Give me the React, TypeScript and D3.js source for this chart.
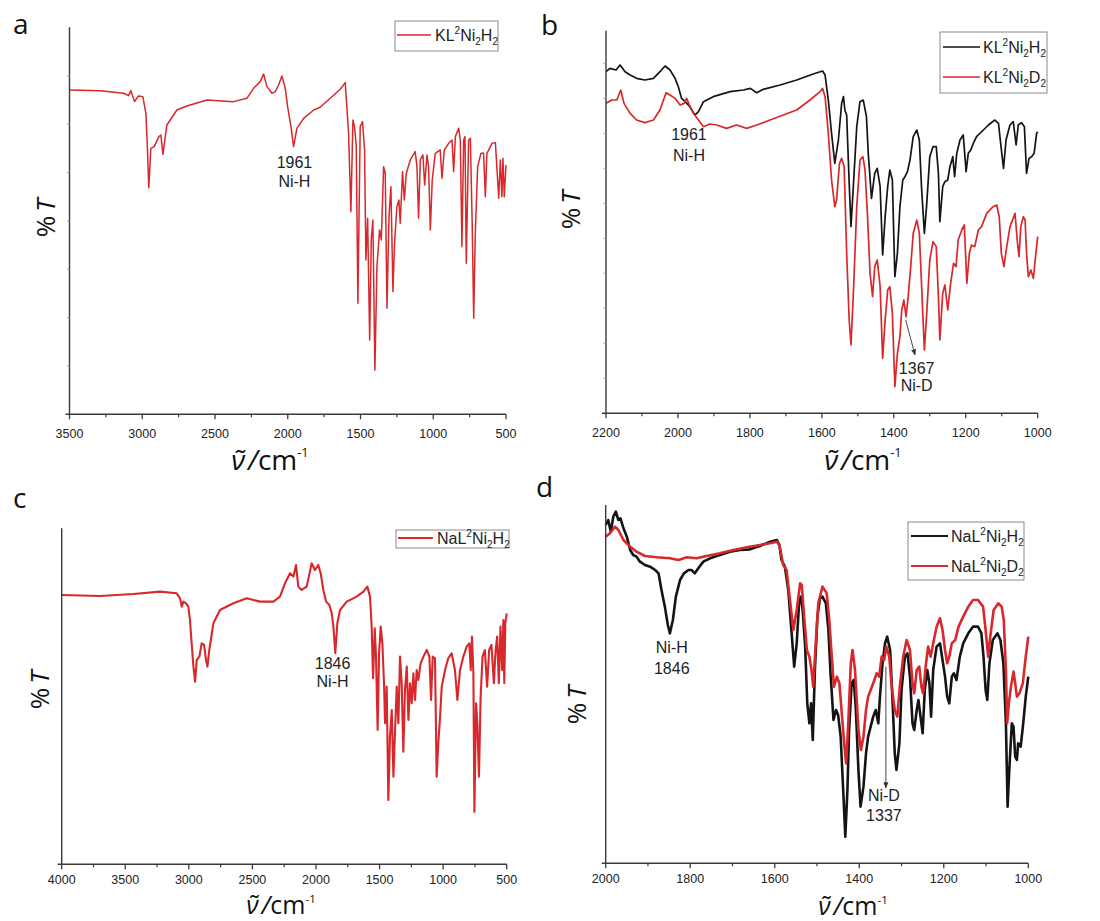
import React from 'react';
import * as d3 from 'd3';

type Pt = [number, number];

// ---- spectra: [wavenumber (cm-1), transmittance (arb. %T)] ----
// KL2Ni2H2, full range
const kH2Full: Pt[] = [
  [3500, 97.3], [3289, 97.1], [3129, 96.3], [3094, 95.6], [3078, 97.1], [3053, 93.8], [3026, 95.5], [2996, 95.3],
  [2975, 90.3], [2964, 79.3], [2955, 68.0], [2941, 79.8], [2918, 80.3], [2886, 83.3], [2872, 83.8], [2858, 78.0],
  [2831, 86.8], [2762, 91.3], [2693, 92.5], [2556, 94.3], [2372, 93.8], [2281, 94.8], [2235, 97.8], [2189, 99.8],
  [2166, 102.1], [2143, 98.3], [2109, 96.3], [2086, 96.8], [2063, 98.8], [2040, 101.5], [2017, 97.8], [2001, 92.3],
  [1978, 86.3], [1960, 80.3], [1937, 85.8], [1891, 88.8], [1822, 91.3], [1777, 92.1], [1708, 94.8], [1639, 97.5],
  [1605, 99.5], [1582, 84.3], [1566, 60.8], [1552, 88.3], [1541, 86.3], [1529, 80.3], [1518, 33.3], [1502, 86.3],
  [1486, 87.8], [1472, 79.3], [1463, 46.3], [1451, 58.8], [1437, 22.3], [1426, 52.3], [1415, 58.3], [1401, 13.3],
  [1387, 44.3], [1369, 55.3], [1357, 52.3], [1341, 74.3], [1330, 72.3], [1318, 31.8], [1304, 59.3], [1291, 68.3],
  [1277, 36.8], [1266, 51.3], [1250, 62.3], [1236, 64.3], [1227, 57.3], [1211, 72.8], [1199, 64.3], [1185, 72.3],
  [1158, 76.3], [1124, 78.8], [1112, 74.3], [1101, 58.8], [1089, 76.3], [1071, 77.8], [1059, 68.8], [1043, 77.8],
  [1032, 74.3], [1020, 55.3], [1007, 70.3], [986, 78.3], [952, 79.3], [940, 70.8], [924, 79.3], [894, 81.3],
  [871, 82.3], [860, 72.8], [848, 83.3], [825, 85.8], [814, 82.3], [803, 50.3], [791, 82.3], [782, 83.3],
  [773, 45.3], [757, 82.3], [745, 82.8], [732, 56.3], [722, 28.8], [711, 54.3], [695, 74.3], [672, 78.3],
  [654, 78.3], [642, 65.3], [631, 78.3], [596, 81.3], [573, 81.5], [550, 64.8], [539, 76.3], [528, 65.3],
  [521, 76.8], [512, 65.3], [500, 74.8],
];

// KL2Ni2H2, 2200–1000 cm-1
const kH2Zoom: Pt[] = [
  [2200, 102.5], [2189, 103.5], [2172, 103], [2161, 104.5], [2147, 102.5], [2133, 101.5], [2115, 100.5], [2092, 100],
  [2068, 100.5], [2050, 102.5], [2036, 104.2], [2022, 103], [2008, 100.5], [1999, 98], [1990, 94.5], [1980, 93.5],
  [1967, 92], [1953, 89.5], [1943, 90.5], [1929, 93.5], [1902, 95], [1855, 96.5], [1818, 97], [1799, 97.5],
  [1781, 96.2], [1763, 97.2], [1716, 98.5], [1670, 100], [1624, 101.8], [1598, 102.7], [1591, 101.5], [1582, 94],
  [1573, 84], [1564, 75], [1554, 82], [1545, 93], [1540, 95], [1536, 91], [1531, 89.5], [1524, 69], [1519, 56],
  [1512, 69], [1503, 86], [1494, 93.5], [1485, 94], [1476, 89], [1471, 78], [1462, 64.5], [1453, 72], [1446, 73.5],
  [1438, 68], [1431, 47.5], [1424, 59], [1417, 68], [1411, 73], [1404, 70], [1397, 41], [1390, 48], [1383, 62],
  [1375, 70], [1369, 71], [1362, 72.5], [1355, 76], [1346, 83], [1336, 85], [1329, 82], [1323, 68], [1315, 54],
  [1309, 62], [1300, 77], [1291, 80], [1282, 80], [1276, 72], [1272, 57.5], [1264, 68], [1258, 69.5], [1250, 70],
  [1244, 74], [1236, 77], [1231, 71], [1225, 78], [1216, 82], [1207, 83.5], [1199, 72.5], [1193, 78], [1186, 79],
  [1179, 81], [1170, 83], [1151, 85], [1137, 86.5], [1119, 88], [1109, 87], [1103, 81], [1095, 73.5], [1088, 82],
  [1077, 86.5], [1068, 87.5], [1060, 80.5], [1054, 86.5], [1045, 87.2], [1037, 86], [1031, 72], [1024, 76.5],
  [1017, 77], [1010, 78], [1003, 84], [1000, 84.5],
];

// KL2Ni2D2, 2200–1000 cm-1
const kD2Zoom: Pt[] = [
  [2200, 93], [2184, 94], [2170, 94], [2159, 97], [2150, 93], [2133, 90], [2115, 88], [2092, 87.2], [2068, 88],
  [2050, 91], [2033, 96.2], [2022, 95.5], [2008, 94.5], [1994, 92.5], [1983, 93], [1976, 94.5], [1968, 92.5],
  [1957, 90], [1943, 88], [1929, 86], [1911, 86.8], [1892, 86.5], [1865, 85.5], [1837, 86.5], [1809, 85.5],
  [1781, 86.5], [1744, 88], [1707, 89.5], [1670, 91], [1633, 94], [1605, 96.5], [1598, 97.5], [1591, 95],
  [1582, 84], [1573, 70], [1564, 62], [1559, 64], [1551, 75], [1545, 76.5], [1538, 74], [1531, 48], [1524, 28],
  [1519, 20.5], [1512, 37], [1503, 62], [1494, 76], [1486, 77], [1480, 73], [1473, 59], [1466, 42], [1459, 35],
  [1453, 44], [1446, 46], [1438, 38], [1431, 16.5], [1424, 28], [1417, 37], [1411, 38], [1404, 30], [1397, 8],
  [1390, 18], [1383, 23], [1378, 31], [1372, 34], [1366, 29], [1360, 35], [1353, 44], [1346, 54], [1336, 58],
  [1329, 54], [1323, 39], [1315, 19], [1309, 29], [1300, 46], [1291, 51.5], [1282, 50], [1276, 35], [1272, 22],
  [1264, 36], [1258, 38.5], [1250, 31], [1242, 39], [1234, 45], [1227, 44], [1221, 52], [1211, 55], [1204, 56.5],
  [1197, 39], [1190, 48], [1184, 50.5], [1175, 50], [1165, 55], [1156, 56], [1142, 60], [1124, 62], [1114, 62.5],
  [1107, 59], [1101, 48], [1094, 44], [1086, 50], [1077, 56], [1063, 60], [1057, 52], [1052, 47], [1047, 56],
  [1040, 59], [1035, 58], [1031, 48], [1026, 41], [1019, 43], [1012, 40.5], [1006, 47], [1000, 53],
];

// NaL2Ni2H2, full range
const naH2Full: Pt[] = [
  [4000, 80.8], [3699, 80.5], [3436, 81.1], [3227, 81.8], [3096, 81.3], [3069, 79.8], [3056, 77.3], [3043, 78.8],
  [3022, 78.3], [3004, 77.3], [2991, 73.3], [2978, 66.3], [2964, 59.3], [2951, 54.8], [2938, 61.3], [2917, 62.3],
  [2899, 66.3], [2880, 65.8], [2865, 61.3], [2854, 59.3], [2839, 64.3], [2807, 72.3], [2755, 76.3], [2650, 78.3],
  [2545, 79.8], [2440, 78.8], [2335, 78.8], [2283, 80.3], [2244, 84.3], [2204, 87.3], [2178, 86.3], [2157, 89.8],
  [2139, 83.3], [2113, 82.3], [2073, 83.3], [2034, 90.3], [2008, 88.3], [1982, 89.8], [1963, 87.3], [1942, 82.3],
  [1921, 78.8], [1895, 77.8], [1876, 75.3], [1863, 71.3], [1848, 63.3], [1832, 72.3], [1811, 76.3], [1758, 78.8],
  [1680, 80.3], [1627, 81.8], [1596, 83.3], [1575, 80.3], [1562, 71.3], [1551, 55.8], [1538, 70.8], [1528, 62.3],
  [1515, 40.3], [1504, 63.3], [1491, 71.3], [1478, 66.3], [1465, 54.3], [1457, 42.3], [1444, 53.3], [1431, 19.3],
  [1418, 38.3], [1404, 46.3], [1391, 26.3], [1378, 40.3], [1365, 53.3], [1352, 42.3], [1339, 62.3], [1326, 54.3],
  [1313, 33.8], [1300, 52.3], [1286, 59.3], [1273, 43.3], [1260, 54.3], [1247, 48.3], [1234, 57.3], [1221, 49.3],
  [1208, 58.3], [1195, 55.3], [1177, 60.3], [1155, 62.3], [1129, 64.3], [1108, 62.3], [1095, 49.3], [1082, 62.3],
  [1064, 61.8], [1051, 26.3], [1038, 36.3], [1024, 44.3], [1011, 53.3], [985, 58.3], [960, 61.8], [933, 63.3],
  [907, 58.3], [888, 49.3], [867, 58.3], [841, 62.3], [815, 65.3], [794, 66.3], [783, 58.3], [773, 68.3],
  [762, 57.3], [754, 15.8], [741, 48.3], [731, 42.3], [718, 26.3], [705, 50.3], [690, 62.3], [672, 64.3],
  [654, 53.3], [638, 64.3], [620, 65.8], [601, 54.3], [588, 63.8], [575, 68.3], [562, 54.3], [549, 71.3],
  [536, 58.3], [526, 73.3], [519, 54.3], [511, 72.3], [500, 75.3],
];

// NaL2Ni2H2, 2000–1000 cm-1
const naH2Zoom: Pt[] = [
  [2000, 101.5], [1994, 103], [1988, 99.5], [1982, 104], [1976, 105.5], [1970, 103], [1965, 103.5], [1958, 100.5],
  [1950, 98], [1942, 94], [1935, 92.5], [1927, 92], [1919, 90.5], [1907, 89.5], [1895, 89], [1883, 88], [1875, 87],
  [1868, 82], [1860, 77], [1853, 71.5], [1848, 69], [1841, 73], [1834, 80], [1824, 85], [1815, 87], [1804, 88],
  [1797, 88], [1789, 87], [1781, 88.5], [1769, 90.5], [1753, 91.5], [1730, 92.5], [1706, 93.5], [1682, 94],
  [1659, 94.2], [1635, 95.2], [1611, 96.5], [1595, 97], [1589, 95.5], [1584, 91], [1576, 89], [1568, 82],
  [1560, 69], [1554, 59], [1548, 66], [1542, 79], [1538, 80], [1534, 76], [1528, 65], [1523, 48], [1518, 42],
  [1514, 48], [1510, 37], [1505, 58], [1499, 74], [1493, 79.5], [1487, 80], [1479, 78], [1473, 70], [1468, 57],
  [1461, 43], [1455, 46], [1450, 44.5], [1444, 38], [1438, 22], [1433, 8], [1428, 22], [1424, 40], [1418, 54],
  [1413, 55], [1408, 46], [1402, 28], [1397, 17], [1390, 23], [1384, 33], [1379, 38], [1373, 41], [1367, 44],
  [1361, 46], [1355, 42], [1351, 50], [1345, 60], [1339, 66], [1334, 68], [1327, 64], [1321, 48], [1316, 33],
  [1312, 28], [1305, 36], [1300, 52], [1292, 62], [1286, 63], [1280, 56], [1274, 42], [1270, 40], [1264, 46],
  [1260, 49], [1255, 44], [1250, 39], [1245, 52], [1239, 58], [1234, 54], [1230, 44], [1225, 58], [1217, 65],
  [1209, 66], [1203, 61], [1197, 56], [1192, 50], [1187, 48], [1181, 56], [1176, 57], [1170, 55], [1162, 62],
  [1154, 66], [1142, 69], [1131, 71], [1119, 71], [1111, 69], [1106, 62], [1101, 52], [1097, 49], [1092, 60],
  [1084, 67], [1073, 69], [1066, 67], [1059, 60], [1053, 42], [1049, 17], [1045, 28], [1039, 42], [1035, 41],
  [1031, 32], [1027, 31], [1024, 36], [1018, 35], [1012, 42], [1006, 50], [1000, 56],
];

// NaL2Ni2D2, 2000–1000 cm-1
const naD2Zoom: Pt[] = [
  [2000, 98], [1990, 99], [1978, 101], [1970, 100], [1958, 97], [1942, 95], [1927, 93.5], [1907, 92.2],
  [1879, 91.8], [1848, 91.5], [1828, 91], [1808, 91.8], [1785, 91.5], [1761, 92.2], [1730, 93], [1698, 94],
  [1666, 94.8], [1635, 95.5], [1611, 96], [1595, 96.5], [1588, 95], [1580, 89.5], [1572, 88], [1564, 79],
  [1556, 70], [1548, 76], [1540, 84], [1536, 83.5], [1531, 75], [1524, 64], [1518, 62], [1513, 58], [1509, 53],
  [1503, 66], [1497, 78], [1487, 83], [1477, 81], [1471, 73], [1465, 62], [1460, 53], [1453, 56], [1447, 54],
  [1442, 46], [1435, 35], [1431, 30], [1426, 42], [1420, 60], [1416, 64], [1410, 58], [1402, 40], [1396, 34],
  [1390, 38], [1384, 46], [1379, 50], [1373, 52], [1367, 54], [1359, 57], [1353, 56], [1347, 62], [1341, 61],
  [1336, 65], [1329, 62], [1324, 54], [1316, 46], [1310, 44], [1304, 53], [1296, 62], [1288, 67], [1280, 64],
  [1274, 54], [1270, 51], [1264, 58], [1258, 59], [1253, 53], [1249, 51], [1242, 60], [1237, 65], [1231, 62],
  [1225, 66], [1217, 71], [1209, 73.5], [1203, 70], [1197, 64], [1192, 60], [1187, 62], [1181, 66], [1173, 67],
  [1165, 71], [1154, 74], [1142, 77], [1131, 79], [1119, 79], [1107, 77], [1101, 70], [1095, 62], [1090, 68],
  [1082, 76], [1071, 78], [1063, 77], [1058, 73], [1053, 58], [1050, 42], [1046, 48], [1041, 53], [1035, 57.5],
  [1031, 54], [1027, 50], [1021, 51], [1013, 54], [1006, 62], [1000, 68],
];

// ---- axis tick values ----
const ticksA = [3500, 3000, 2500, 2000, 1500, 1000, 500];
const ticksB = [2200, 2000, 1800, 1600, 1400, 1200, 1000];
const ticksC = [4000, 3500, 3000, 2500, 2000, 1500, 1000, 500];
const ticksD = [2000, 1800, 1600, 1400, 1200, 1000];

const RED = '#d8282b';
const BLACK = '#141414';
const AXIS = '#3a3a3a';
const SANS = 'Liberation Sans, Arial, sans-serif';
const TITLE_FONT = 'Open Sans, Liberation Sans, sans-serif';

type Series = { data: Pt[]; color: string; width: number; cation: string; iso: string };
type Note = { wn: number; lines: string[]; dx: number; baseline: number; gap: number };
type Arrow = { from: Pt; to: Pt };

type PanelCfg = {
  letter: string;
  letterPos: [number, number];
  x0: number; x1: number; yTop: number; yBottom: number;
  xDomain: [number, number];
  yMax: number;
  ticks: number[];
  minorStep: number;
  yTickStep: number | null;
  series: Series[];
  legend: { x: number; y: number; w: number; h: number; lineX0: number; lineX1: number; textX: number; rows: number[] };
  notes: Note[];
  arrows: Arrow[];
  xTitle: [number, number];
  xTitleSize: number;
  yTitle: [number, number];
  tickBaseline: number;
};

function Formula({ x, y, cation, iso }: { x: number; y: number; cation: string; iso: string }) {
  return (
    <text x={x} y={y} fontFamily={SANS} fontSize={16} fill="#222">
      {cation}L
      <tspan fontSize={10} dy={-7}>2</tspan>
      <tspan dy={7}>Ni</tspan>
      <tspan fontSize={10} dy={4}>2</tspan>
      <tspan dy={-4}>{iso}</tspan>
      <tspan fontSize={10} dy={4}>2</tspan>
    </text>
  );
}

function Panel({ cfg, id }: { cfg: PanelCfg; id: string }) {
  const x = d3.scaleLinear().domain(cfg.xDomain).range([cfg.x0, cfg.x1]);
  const y = d3.scaleLinear().domain([0, cfg.yMax]).range([cfg.yBottom, cfg.yTop]);
  const line = d3.line<Pt>().x((d) => x(d[0])).y((d) => y(d[1]));
  const lo = Math.min(...cfg.xDomain);
  const hi = Math.max(...cfg.xDomain);
  const minor = d3.range(lo, hi + 1, cfg.minorStep).filter((v) => !cfg.ticks.includes(v));
  const yTicks = cfg.yTickStep ? d3.range(cfg.yTickStep, cfg.yMax - 1, cfg.yTickStep) : [];
  const lg = cfg.legend;

  return (
    <g>
      <text x={cfg.letterPos[0]} y={cfg.letterPos[1]} fontFamily={TITLE_FONT} fontSize={28} fill="#111">
        {cfg.letter}
      </text>

      {/* spectra */}
      {cfg.series.map((s, i) => (
        <path key={i} d={line(s.data) || ''} fill="none" stroke={s.color} strokeWidth={s.width} strokeLinejoin="round" />
      ))}

      {/* axes */}
      <line x1={cfg.x0} x2={cfg.x0} y1={cfg.yTop} y2={cfg.yBottom} stroke={AXIS} strokeWidth={1.4} />
      <line x1={cfg.x0 - 4} x2={cfg.x1} y1={cfg.yBottom} y2={cfg.yBottom} stroke={AXIS} strokeWidth={1.4} />
      {yTicks.map((t) => (
        <line key={t} x1={cfg.x0 - 2.5} x2={cfg.x0} y1={y(t)} y2={y(t)} stroke="#999" strokeWidth={1} />
      ))}
      {cfg.ticks.map((t) => (
        <g key={t}>
          <line x1={x(t)} x2={x(t)} y1={cfg.yBottom} y2={cfg.yBottom + 5} stroke={AXIS} strokeWidth={1.3} />
          <text x={x(t)} y={cfg.tickBaseline} textAnchor="middle" fontFamily={SANS} fontSize={12.5} fill="#222">
            {t}
          </text>
        </g>
      ))}
      {minor.map((t) => (
        <line key={'m' + t} x1={x(t)} x2={x(t)} y1={cfg.yBottom} y2={cfg.yBottom + 3} stroke={AXIS} strokeWidth={1.2} />
      ))}

      {/* axis titles */}
      <text
        transform={`translate(${cfg.yTitle[0]},${cfg.yTitle[1]}) rotate(-90)`}
        textAnchor="middle"
        dominantBaseline="central"
        fontFamily={TITLE_FONT}
        fontSize={26}
        fill="#111"
      >
        %<tspan dx={4} fontStyle="italic">T</tspan>
      </text>
      <text x={cfg.xTitle[0]} y={cfg.xTitle[1]} textAnchor="middle" fontFamily={TITLE_FONT} fontSize={cfg.xTitleSize} fill="#111">
        <tspan fontStyle="italic">ν̃</tspan>
        <tspan dx={3} fontStyle="italic">/</tspan>
        <tspan>cm</tspan>
        <tspan fontSize={cfg.xTitleSize * 0.46} dy={-cfg.xTitleSize * 0.46}>-1</tspan>
      </text>

      {/* annotations */}
      {cfg.notes.map((n, i) =>
        n.lines.map((l, j) => (
          <text key={i + '-' + j} x={x(n.wn) + n.dx} y={n.baseline + j * n.gap} textAnchor="middle" fontFamily={SANS} fontSize={16} fill="#222">
            {l}
          </text>
        ))
      )}
      {cfg.arrows.map((a, i) => (
        <line
          key={'a' + i}
          x1={x(a.from[0])}
          y1={y(a.from[1])}
          x2={x(a.to[0])}
          y2={y(a.to[1])}
          stroke="#333"
          strokeWidth={0.9}
          markerEnd={`url(#head-${id})`}
        />
      ))}
      <defs>
        <marker id={`head-${id}`} viewBox="0 0 10 10" refX={9} refY={5} markerWidth={7} markerHeight={7} orient="auto">
          <path d="M0,1 L10,5 L0,9 Z" fill="#333" />
        </marker>
      </defs>

      {/* legend */}
      <rect x={lg.x} y={lg.y} width={lg.w} height={lg.h} fill="#fff" stroke="#8a8a8a" strokeWidth={1} />
      {cfg.series.map((s, i) => (
        <g key={'l' + i}>
          <line x1={lg.lineX0} x2={lg.lineX1} y1={lg.rows[i]} y2={lg.rows[i]} stroke={s.color} strokeWidth={Math.min(s.width, 2)} />
          <Formula x={lg.textX} y={lg.rows[i] + 6} cation={s.cation} iso={s.iso} />
        </g>
      ))}
    </g>
  );
}

const panels: PanelCfg[] = [
  {
    letter: 'a', letterPos: [13, 34],
    x0: 69.5, x1: 506, yTop: 27.3, yBottom: 414.3,
    xDomain: [3500, 500], yMax: 116.1, ticks: ticksA, minorStep: 250, yTickStep: 14.5,
    series: [{ data: kH2Full, color: RED, width: 1.5, cation: 'K', iso: 'H' }],
    legend: { x: 395, y: 21, w: 103, h: 30, lineX0: 397, lineX1: 431, textX: 435, rows: [35] },
    notes: [{ wn: 1961, lines: ['1961', 'Ni-H'], dx: 1, baseline: 168, gap: 19 }],
    arrows: [],
    xTitle: [270, 470], xTitleSize: 28, yTitle: [45, 218], tickBaseline: 438,
  },
  {
    letter: 'b', letterPos: [541, 35],
    x0: 606, x1: 1037.7, yTop: 30.7, yBottom: 413.3,
    xDomain: [2200, 1000], yMax: 114.8, ticks: ticksB, minorStep: 100, yTickStep: 10.5,
    series: [
      { data: kH2Zoom, color: BLACK, width: 1.7, cation: 'K', iso: 'H' },
      { data: kD2Zoom, color: RED, width: 1.7, cation: 'K', iso: 'D' },
    ],
    legend: { x: 940, y: 32, w: 107, h: 61, lineX0: 943, lineX1: 980, textX: 983, rows: [47, 77] },
    notes: [
      { wn: 1961, lines: ['1961', 'Ni-H'], dx: -3, baseline: 140, gap: 21 },
      { wn: 1367, lines: ['1367', 'Ni-D'], dx: 11, baseline: 374, gap: 17 },
    ],
    arrows: [{ from: [1367, 28], to: [1341, 17.5] }],
    xTitle: [863, 470], xTitleSize: 28, yTitle: [570, 210], tickBaseline: 437,
  },
  {
    letter: 'c', letterPos: [13, 508],
    x0: 61.7, x1: 506.7, yTop: 528.3, yBottom: 864.3,
    xDomain: [4000, 500], yMax: 100.8, ticks: ticksC, minorStep: 250, yTickStep: null,
    series: [{ data: naH2Full, color: RED, width: 2.1, cation: 'Na', iso: 'H' }],
    legend: { x: 396, y: 530, w: 113, h: 18, lineX0: 398, lineX1: 433, textX: 437, rows: [538] },
    notes: [{ wn: 1846, lines: ['1846', 'Ni-H'], dx: -3, baseline: 669, gap: 18 }],
    arrows: [],
    xTitle: [281, 914], xTitleSize: 25, yTitle: [39, 690], tickBaseline: 884,
  },
  {
    letter: 'd', letterPos: [536, 497],
    x0: 605.7, x1: 1028.3, yTop: 505, yBottom: 863.3,
    xDomain: [2000, 1000], yMax: 107.5, ticks: ticksD, minorStep: 100, yTickStep: null,
    series: [
      { data: naH2Zoom, color: BLACK, width: 2.6, cation: 'Na', iso: 'H' },
      { data: naD2Zoom, color: RED, width: 2.6, cation: 'Na', iso: 'D' },
    ],
    legend: { x: 908, y: 522, w: 116, h: 58, lineX0: 911, lineX1: 948, textX: 951, rows: [536, 566] },
    notes: [
      { wn: 1846, lines: ['Ni-H', '1846'], dx: 1, baseline: 653, gap: 21 },
      { wn: 1337, lines: ['Ni-D', '1337'], dx: -2, baseline: 801, gap: 20 },
    ],
    arrows: [{ from: [1337, 59], to: [1337, 22.6] }],
    xTitle: [853, 915], xTitleSize: 25, yTitle: [576, 705], tickBaseline: 883,
  },
];

export default function App() {
  return (
    <svg
      width={1100}
      height={921}
      viewBox="0 0 1100 921"
      style={{ position: 'absolute', left: 0, top: 0, background: '#fff' }}
    >
      <rect width={1100} height={921} fill="#fff" />
      {panels.map((p) => (
        <Panel key={p.letter} cfg={p} id={p.letter} />
      ))}
    </svg>
  );
}
